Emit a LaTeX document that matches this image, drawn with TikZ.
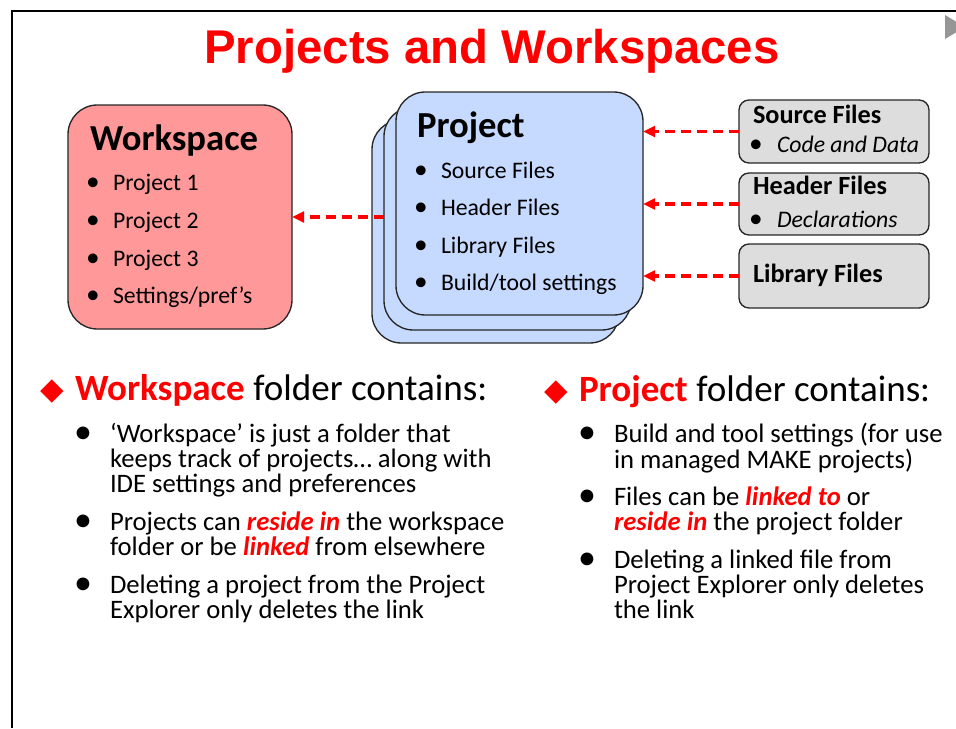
\documentclass[tikz,border=0pt]{standalone}
\usepackage{fontspec}
\setmainfont{Carlito}
\newfontfamily\titlefont{Liberation Sans}
\newfontfamily\symfont{DejaVu Sans}
\usetikzlibrary{arrows.meta}
\definecolor{wsfill}{RGB}{255,153,153}
\definecolor{prjfill}{RGB}{198,217,255}
\definecolor{filefill}{RGB}{221,221,221}
\definecolor{linkred}{RGB}{255,0,0}
\definecolor{framegray}{RGB}{150,150,150}
\newcommand\fsItem{\fontsize{17.8pt}{21pt}\selectfont}
\newcommand\fsItemBul{\fontsize{20.5pt}{24pt}\selectfont}
\newcommand\fsHead{\fontsize{27.5pt}{32pt}\selectfont}
\newcommand\fsHeadB{\fontsize{27.8pt}{32pt}\selectfont}
\newcommand\fsFile{\fontsize{19.7pt}{23pt}\selectfont}
\newcommand\fsBody{\fontsize{20pt}{18.75pt}\selectfont}
\newcommand\fsBodyBul{\fontsize{27pt}{30pt}\selectfont}
\newcommand\hl[1]{\textcolor{linkred}{\bfseries\itshape #1}}
\begin{document}
\begin{tikzpicture}[x=0.75pt,y=-0.75pt,
  box/.style={draw=black!85, line width=1pt, inner sep=0pt, outer sep=0pt},
  wsbox/.style={box, fill=wsfill, minimum width=168pt, minimum height=168pt, rounded corners=22pt},
  prjbox/.style={box, fill=prjfill, minimum width=185.25pt, minimum height=167.25pt, rounded corners=22pt},
  filebox/.style={box, fill=filefill, minimum width=142.5pt, rounded corners=7.5pt},
  txt/.style={anchor=base west, inner sep=0pt, outer sep=0pt},
  bul/.style={anchor=base, inner sep=0pt, outer sep=0pt},
  link/.style={draw=linkred, line width=2.4pt, dash pattern=on 7.5pt off 4.5pt, -{Triangle[length=9pt,width=8pt]}},
  frameline/.style={line width=1.5pt, draw=black}
]
\useasboundingbox (0,0) rectangle (956,728);
% frame
\draw[frameline] (12,728) -- (12,11) -- (956,11);
\fill[framegray] (945,15) -- (965,27) -- (945,39) -- cycle;
% title
\node[anchor=base, inner sep=0pt, text=linkred, font=\titlefont\bfseries\fontsize{35.5pt}{40pt}\selectfont] (title) at (492,63) {Projects and Workspaces};

% workspace box
\node[wsbox] (ws) at (180,217) {};
\node[txt, font=\fsHead\bfseries] (wsT) at (90,150) {Workspace};
\foreach \t/\y/\n in {{Project 1}/190/1, {Project 2}/228/2, {Project 3}/266/3, {Settings/pref’s}/303/4}{
  \node[bul, font=\fsItemBul] (wsb\n) at (93,\y) {•};
  \node[txt, font=\fsItem] (wsi\n) at (113,\y) {\t};
}

% project stack
\node[prjbox] (prjC) at (495.5,231.5) {};
\node[prjbox] (prjB) at (507.5,218.5) {};
\node[prjbox] (prjA) at (519.5,203.5) {};
\node[txt, font=\fsHead\bfseries] (prjT) at (417,137) {Project};
\foreach \t/\y/\n in {{Source Files}/178/1, {Header Files}/215/2, {Library Files}/253/3, {Build/tool settings}/290/4}{
  \node[bul, font=\fsItemBul] (pb\n) at (421,\y) {•};
  \node[txt, font=\fsItem] (pi\n) at (441,\y) {\t};
}

% file boxes
\node[filebox, minimum height=47.25pt] (src) at (834,131.5) {};
\node[filebox, minimum height=46.5pt] (hdr) at (834,204) {};
\node[filebox, minimum height=48pt] (lib) at (834,276) {};
\node[txt, font=\fsFile\bfseries] (srcT) at (753,123) {Source Files};
\node[bul, font=\fsItemBul] (srcB) at (756,152) {•};
\node[txt, font=\fsItem\itshape] (srcI) at (777,152) {Code and Data};
\node[txt, font=\fsFile\bfseries] (hdrT) at (753,194) {Header Files};
\node[bul, font=\fsItemBul] (hdrB) at (756,227) {•};
\node[txt, font=\fsItem\itshape] (hdrI) at (777,227) {Declarations};
\node[txt, font=\fsFile\bfseries] (libT) at (753,282) {Library Files};

% links
\draw[link] (src.west) -- (src.west -| prjA.east);
\draw[link] (hdr.west) -- (hdr.west -| prjA.east);
\draw[link] (lib.west) -- (lib.west -| prjA.east);
\draw[link] (ws.east -| prjB.west) -- (ws.east);

% bottom left
\node[bul, text=linkred, font=\symfont\fontsize{23pt}{26pt}\selectfont] (dL) at (52,399) {◆};
\node[txt, font=\fsHeadB] (hL) at (75,400) {\textcolor{linkred}{\bfseries Workspace} folder contains:};
\node[bul, font=\fsBodyBul] (bL1) at (83,443) {•};
\node[txt, font=\fsBody] (L1a) at (110,442) {‘Workspace’ is just a folder that};
\node[txt, font=\fsBody] (L1b) at (110,467) {keeps track of projects… along with};
\node[txt, font=\fsBody] (L1c) at (110,492) {IDE settings and preferences};
\node[bul, font=\fsBodyBul] (bL2) at (83,531) {•};
\node[txt, font=\fsBody] (L2a) at (110,530) {Projects can \hl{reside in} the workspace};
\node[txt, font=\fsBody] (L2b) at (110,555) {folder or be \hl{linked} from elsewhere};
\node[bul, font=\fsBodyBul] (bL3) at (83,594) {•};
\node[txt, font=\fsBody] (L3a) at (110,593) {Deleting a project from the Project};
\node[txt, font=\fsBody] (L3b) at (110,618) {Explorer only deletes the link};

% bottom right
\node[bul, text=linkred, font=\symfont\fontsize{23pt}{26pt}\selectfont] (dR) at (556,400) {◆};
\node[txt, font=\fsHeadB] (hR) at (579,401) {\textcolor{linkred}{\bfseries Project} folder contains:};
\node[bul, font=\fsBodyBul] (bR1) at (587,443) {•};
\node[txt, font=\fsBody] (R1a) at (614,442) {Build and tool settings (for use};
\node[txt, font=\fsBody] (R1b) at (614,468) {in managed MAKE projects)};
\node[bul, font=\fsBodyBul] (bR2) at (587,506) {•};
\node[txt, font=\fsBody] (R2a) at (614,505) {Files can be \hl{linked to} or};
\node[txt, font=\fsBody] (R2b) at (614,530) {\hl{reside in} the project folder};
\node[bul, font=\fsBodyBul] (bR3) at (587,569) {•};
\node[txt, font=\fsBody] (R3a) at (614,568) {Deleting a linked file from};
\node[txt, font=\fsBody] (R3b) at (614,593) {Project Explorer only deletes};
\node[txt, font=\fsBody] (R3c) at (614,618) {the link};
\end{tikzpicture}
\end{document}
